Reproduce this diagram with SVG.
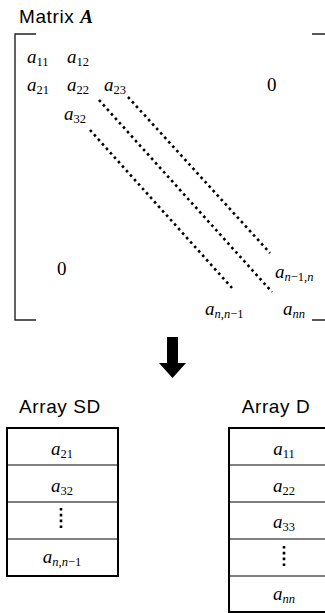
<svg xmlns="http://www.w3.org/2000/svg" width="325" height="613" viewBox="0 0 325 613">
<style>
.lbl{font-family:"Liberation Sans",Arial,sans-serif;font-size:19px;letter-spacing:0.6px;fill:#000}
.m{font-family:"Liberation Serif","Times New Roman",serif;font-size:19px;fill:#000}
.i{font-style:italic}
.s{font-size:12.5px}
.br{fill:none;stroke:#222;stroke-width:1.4}
.dot{fill:none;stroke:#000;stroke-width:2.6;stroke-dasharray:2.6 3.4}
.vdot{fill:none;stroke:#000;stroke-width:2.6;stroke-dasharray:2.6 3.2}
.box{fill:#fff;stroke:#000;stroke-width:2}
.row{stroke:#000;stroke-width:1}
</style>
<g id="matrix-title">
<text class="lbl" x="19" y="23">Matrix <tspan style="font-family:'Liberation Serif',serif;font-weight:bold;font-style:italic;font-size:19px">A</tspan></text>
</g>
<g id="matrix">
<path class="br" d="M36,34 H15 V320 H36"/>
<path class="br" d="M312,34 H325 M312,320 H325"/>
<text class="m" x="27" y="63"><tspan class="i">a</tspan><tspan class="s" dy="3">11</tspan></text>
<text class="m" x="67" y="63"><tspan class="i">a</tspan><tspan class="s" dy="3">12</tspan></text>
<text class="m" x="27" y="91"><tspan class="i">a</tspan><tspan class="s" dy="3">21</tspan></text>
<text class="m" x="67" y="91"><tspan class="i">a</tspan><tspan class="s" dy="3">22</tspan></text>
<text class="m" x="104" y="91"><tspan class="i">a</tspan><tspan class="s" dy="3">23</tspan></text>
<text class="m" x="267" y="91">0</text>
<text class="m" x="64" y="120"><tspan class="i">a</tspan><tspan class="s" dy="3">32</tspan></text>
<text class="m" x="57" y="275">0</text>
<text class="m" x="275" y="278"><tspan class="i">a</tspan><tspan class="s" dy="3"><tspan class="i">n</tspan>−1,<tspan class="i">n</tspan></tspan></text>
<text class="m" x="205" y="315"><tspan class="i">a</tspan><tspan class="s" dy="3"><tspan class="i">n</tspan>,<tspan class="i">n</tspan>−1</tspan></text>
<text class="m" x="283" y="315"><tspan class="i">a</tspan><tspan class="s i" dy="3">nn</tspan></text>
</g>
<g id="connectors">
<line class="dot" x1="90" y1="130" x2="232" y2="288"/>
<line class="dot" x1="99" y1="100" x2="272" y2="292"/>
<line class="dot" x1="128" y1="97" x2="270" y2="253"/>
<path id="arrow" d="M167,337 H178 V363 H186 L172.5,378 L159,363 H167 Z" fill="#000"/>
</g>
<g id="array-sd">
<text class="lbl" x="60" y="413" text-anchor="middle">Array SD</text>
<rect class="box" x="7" y="428" width="111" height="148"/>
<line class="row" x1="7" y1="465" x2="118" y2="465"/>
<line class="row" x1="7" y1="502" x2="118" y2="502"/>
<line class="row" x1="7" y1="539" x2="118" y2="539"/>
<text class="m" x="62" y="455" text-anchor="middle"><tspan class="i">a</tspan><tspan class="s" dy="3">21</tspan></text>
<text class="m" x="62" y="492" text-anchor="middle"><tspan class="i">a</tspan><tspan class="s" dy="3">32</tspan></text>
<line class="vdot" x1="61" y1="508" x2="61" y2="528"/>
<text class="m" x="62" y="563" text-anchor="middle"><tspan class="i">a</tspan><tspan class="s" dy="3"><tspan class="i">n</tspan>,<tspan class="i">n</tspan>−1</tspan></text>
</g>
<g id="array-d">
<text class="lbl" x="276" y="413" text-anchor="middle">Array D</text>
<rect class="box" x="229" y="428" width="111" height="184"/>
<line class="row" x1="229" y1="465" x2="340" y2="465"/>
<line class="row" x1="229" y1="502" x2="340" y2="502"/>
<line class="row" x1="229" y1="539" x2="340" y2="539"/>
<line class="row" x1="229" y1="576" x2="340" y2="576"/>
<text class="m" x="284" y="455" text-anchor="middle"><tspan class="i">a</tspan><tspan class="s" dy="3">11</tspan></text>
<text class="m" x="284" y="492" text-anchor="middle"><tspan class="i">a</tspan><tspan class="s" dy="3">22</tspan></text>
<text class="m" x="284" y="528" text-anchor="middle"><tspan class="i">a</tspan><tspan class="s" dy="3">33</tspan></text>
<line class="vdot" x1="284" y1="546" x2="284" y2="566"/>
<text class="m" x="284" y="600" text-anchor="middle"><tspan class="i">a</tspan><tspan class="s i" dy="3">nn</tspan></text>
</g>
</svg>
